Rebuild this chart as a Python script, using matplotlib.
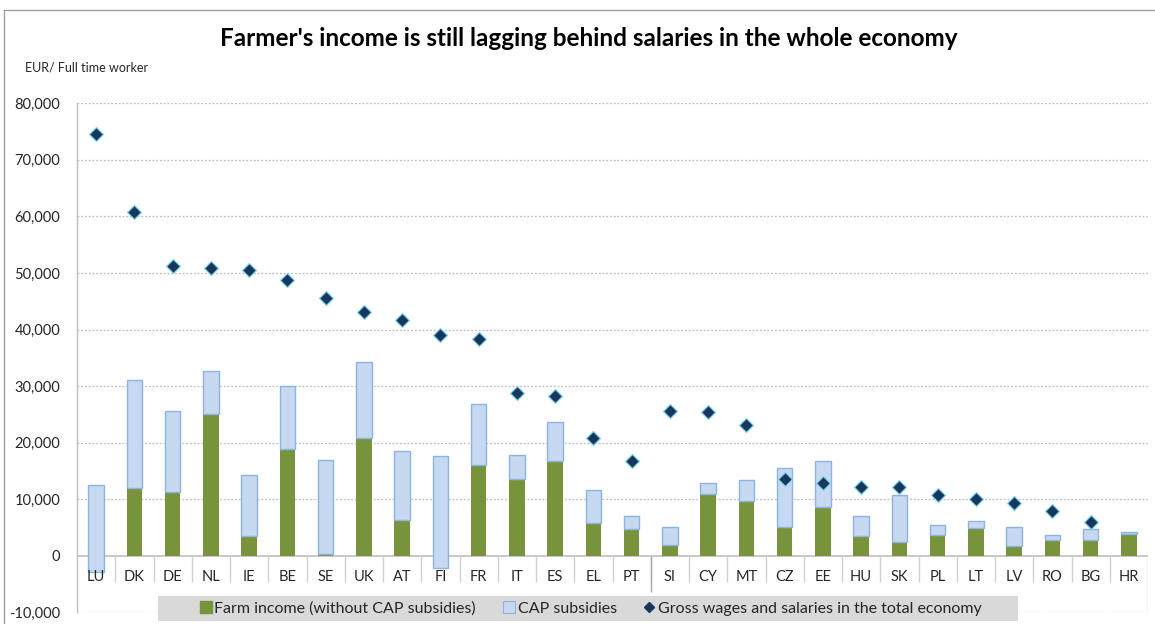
"""Farmer's income vs. salaries in the whole economy, by EU member state."""
import matplotlib

matplotlib.use("Agg")
import matplotlib.pyplot as plt
import numpy as np
from matplotlib.lines import Line2D
from matplotlib.patches import Rectangle

plt.rcParams["font.family"] = ["Lato", "DejaVu Sans"]

COUNTRIES = ["LU", "DK", "DE", "NL", "IE", "BE", "SE", "UK", "AT", "FI", "FR", "IT", "ES", "EL",
             "PT", "SI", "CY", "MT", "CZ", "EE", "HU", "SK", "PL", "LT", "LV", "RO", "BG", "HR"]
# EUR per full time worker
FARM_INCOME = [-2900, 11900, 11200, 25000, 3500, 18800, 300, 20800, 6300, -2200, 16100, 13600, 16800, 5800,
               4700, 1900, 11000, 9700, 5000, 8600, 3500, 2400, 3600, 4900, 1700, 2700, 2800, 3900]
CAP_SUBSIDIES = [15400, 19200, 14400, 7600, 10800, 11200, 16600, 13400, 12300, 19800, 10700, 4300, 6800, 5800,
                 2400, 3100, 1900, 3700, 10600, 8100, 3500, 8300, 1800, 1300, 3300, 1000, 1900, 300]
GROSS_WAGES = [74500, 60700, 51300, 50900, 50600, 48800, 45500, 43100, 41600, 39100, 38400, 28800, 28200, 20900,
               16700, 25600, 25500, 23200, 13600, 12900, 12200, 12100, 10800, 10100, 9400, 7900, 5900, np.nan]

GREEN = "#77933C"
CAP_FILL = "#C6D9F1"
CAP_EDGE = "#8DB3E2"
DIAMOND = "#17375E"
DIAMOND_EDGE = "#7FD3EA"
AXIS_GRAY = "#BFBFBF"
TEXT = "#262626"

fig = plt.figure(figsize=(11.55, 6.24), dpi=100)
ax = fig.add_axes([77 / 1155, 1 - 612.3 / 624, (1148 - 77) / 1155, (612.3 - 103.3) / 624])

x = np.arange(len(COUNTRIES))
farm = np.array(FARM_INCOME, dtype=float)
cap = np.array(CAP_SUBSIDIES, dtype=float)

ax.bar(x, farm, width=0.4, color=GREEN, zorder=3)
# subsidies sit on top of farm income (covering it where farm income is negative)
ax.bar(x, cap, bottom=farm, width=0.4, color=CAP_FILL, edgecolor=CAP_EDGE, linewidth=1.0, zorder=4)
ax.plot(x, GROSS_WAGES, linestyle="none", marker="D", markersize=7, color=DIAMOND,
        markeredgecolor=DIAMOND_EDGE, markeredgewidth=0.9, zorder=5)

ax.set_xlim(-0.5, len(COUNTRIES) - 0.5)
ax.set_ylim(-10000, 80000)
ax.set_yticks(np.arange(-10000, 80001, 10000))
ax.set_yticklabels([f"{int(v):,}" for v in ax.get_yticks()], color=TEXT, fontsize=10.5)
ax.tick_params(axis="y", length=0, pad=12)
ax.set_xticks([])

for spine in ["top", "right", "bottom"]:
    ax.spines[spine].set_visible(False)
ax.spines["left"].set_color(AXIS_GRAY)
ax.spines["left"].set_linewidth(1.0)

for level in np.arange(-10000, 80001, 10000):
    if level == 0:
        continue
    ax.axhline(level, color="#BFBFBF", linewidth=0.9, linestyle=(0, (1.5, 1.5)), zorder=1)
ax.axhline(0, color=AXIS_GRAY, linewidth=1.2, zorder=2)

# category separators below the zero line
bounds = np.arange(0.5, len(COUNTRIES) - 1, 1.0)
ax.vlines(bounds, -4600, 0, color="#D0D0D0", linewidth=1.0, zorder=2)
ax.vlines(14.5, -6400, 0, color="#A6A6A6", linewidth=1.0, zorder=2)
ax.vlines(len(COUNTRIES) - 0.5, -10000, 0, color="#D0D0D0", linewidth=1.0, zorder=2)

for xi, name in zip(x, COUNTRIES):
    ax.text(xi, -3700, name, ha="center", va="center", fontsize=10.5, color=TEXT, zorder=6)

# chart area border (top and left visible)
fig.add_artist(Line2D([4 / 1155, 4 / 1155], [0, 1 - 10 / 624], transform=fig.transFigure, color="#A0A0A0", lw=1.0))
fig.add_artist(Line2D([4 / 1155, 1], [1 - 10 / 624, 1 - 10 / 624], transform=fig.transFigure, color="#A0A0A0", lw=1.0))

fig.text(589 / 1155, 1 - 38 / 624, "Farmer's income is still lagging behind salaries in the whole economy",
         ha="center", va="center", fontsize=17.5, fontweight="bold", color="black")
fig.text(25 / 1155, 1 - 67 / 624, "EUR/ Full time worker", ha="left", va="center", fontsize=9, color=TEXT)

# legend strip
fig.add_artist(Rectangle((158 / 1155, 1 - 621 / 624), (1018 - 158) / 1155, 25 / 624,
                         transform=fig.transFigure, facecolor="#D9D9D9", edgecolor="none", zorder=7))
handles = [
    Line2D([], [], linestyle="none", marker="s", markersize=8, color=GREEN),
    Line2D([], [], linestyle="none", marker="s", markersize=8, markerfacecolor=CAP_FILL,
           markeredgecolor=CAP_EDGE, markeredgewidth=0.8),
    Line2D([], [], linestyle="none", marker="D", markersize=5, color=DIAMOND),
]
labels = ["Farm income (without CAP subsidies)", "CAP subsidies", "Gross wages and salaries in the total economy"]
leg = fig.legend(handles, labels, loc="center", bbox_to_anchor=(591 / 1155, 1 - 608.5 / 624), ncol=3,
                 frameon=False, fontsize=11.5, handlelength=0.7, handletextpad=0.2, columnspacing=1.7)
leg.set_zorder(8)
for t in leg.get_texts():
    t.set_color(TEXT)

fig.savefig("out.png", dpi=100)
